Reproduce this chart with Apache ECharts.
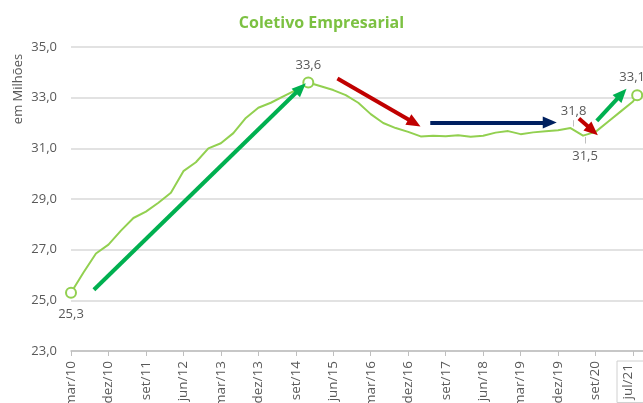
<!DOCTYPE html>
<html>
<head>
<meta charset="utf-8">
<script src="https://cdn.jsdelivr.net/npm/echarts@6/dist/echarts.min.js"></script>
<style>
  html, body { margin: 0; padding: 0; background: #fff; }
  #chart { width: 643px; height: 403px; }
</style>
</head>
<body>
<div id="chart"></div>
<script>
// datas dos pontos (trimestral, ultimo mes jul/21)
const dates = [
  "mar/10", "jun/10", "set/10", "dez/10", "mar/11", "jun/11", "set/11", "dez/11",
  "mar/12", "jun/12", "set/12", "dez/12", "mar/13", "jun/13", "set/13", "dez/13",
  "mar/14", "jun/14", "set/14", "dez/14", "mar/15", "jun/15", "set/15", "dez/15",
  "mar/16", "jun/16", "set/16", "dez/16", "mar/17", "jun/17", "set/17", "dez/17",
  "mar/18", "jun/18", "set/18", "dez/18", "mar/19", "jun/19", "set/19", "dez/19",
  "mar/20", "jun/20", "set/20", "dez/20", "mar/21", "jun/21", "jul/21"
];
// beneficiarios (milhoes)
const values = [
  25.3, 26.1, 26.85, 27.2, 27.75, 28.25, 28.5, 28.85,
  29.25, 30.1, 30.45, 31.0, 31.2, 31.6, 32.2, 32.6,
  32.8, 33.05, 33.3, 33.6, 33.45, 33.3, 33.1, 32.8,
  32.35, 32.0, 31.8, 31.65, 31.47, 31.5, 31.48, 31.52,
  31.46, 31.5, 31.62, 31.68, 31.56, 31.63, 31.67, 31.71,
  31.8, 31.5, 31.65, 32.05, 32.45, 32.85, 33.1
];
// rotulos do eixo x (a cada 9 meses)
const tickLabels = [
  "mar/10", "dez/10", "set/11", "jun/12", "mar/13", "dez/13", "set/14", "jun/15",
  "mar/16", "dez/16", "set/17", "jun/18", "mar/19", "dez/19", "set/20", "jul/21"
];
// pontos destacados
const circled = ["mar/10", "dez/14", "jul/21"];
const labelled = { "mar/10": "bottom", "dez/14": "top", "mar/20": "top", "jun/20": "bottom", "jul/21": "top" };
// setas desenhadas: [mes inicio, valor inicio, mes fim, valor fim, cor]
const arrows = [
  [5.5, 25.42, 55.2, 33.38, "green"],
  [64.0, 33.76, 82.5, 32.0, "red"],
  [86.3, 32.02, 115.0, 32.02, "navy"],
  [122.0, 32.18, 125.3, 31.7, "red"],
  [126.3, 32.08, 132.3, 33.15, "green"]
];
// tracinhos ligando rotulos aos pontos
const leaders = [
  [120.6, 32.11, 120.6, 31.86],
  [123.5, 31.45, 123.5, 31.19]
];

const monthNames = ["jan", "fev", "mar", "abr", "mai", "jun", "jul", "ago", "set", "out", "nov", "dez"];
function monthIndex(d) {
  let p = d.split("/");
  return (parseInt(p[1]) - 10) * 12 + monthNames.indexOf(p[0]) - 2;
}
function fmt(v) {
  return v.toFixed(1).replace(".", ",");
}

const lineColor = "#92d050";
const arrowColors = { green: "#00b050", red: "#c00000", navy: "#002060" };
const labelDist = { "mar/10": 9, "dez/14": 5, "mar/20": 10, "jun/20": 14, "jul/21": 5 };

let seriesData = dates.map(function (d, i) {
  let item = { value: [monthIndex(d), values[i]] };
  if (circled.indexOf(d) >= 0) {
    item.symbol = "emptyCircle";
    item.symbolSize = 10;
  }
  if (labelled[d]) {
    if (!item.symbol) {
      item.symbol = "circle";
      item.symbolSize = 1;
    }
    item.label = {
      show: true,
      position: labelled[d],
      distance: labelDist[d],
      formatter: function (p) { return fmt(p.value[1]); }
    };
    if (d == "mar/20") item.label.offset = [3, 0];
    if (d == "jun/20") item.label.offset = [2, 0];
    if (d == "jul/21") item.label.offset = [-5, 0];
  }
  return item;
});

let markData = arrows.map(function (a) {
  return [
    { coord: [a[0], a[1]], symbol: "none" },
    { coord: [a[2], a[3]], symbol: "triangle", symbolSize: [12, 14],
      lineStyle: { color: arrowColors[a[4]], width: 4, type: "solid" },
      itemStyle: { color: arrowColors[a[4]] } }
  ];
});
leaders.forEach(function (l) {
  markData.push([
    { coord: [l[0], l[1]], symbol: "none" },
    { coord: [l[2], l[3]], symbol: "none", lineStyle: { color: "#bfbfbf", width: 1, type: "solid" } }
  ]);
});

let myChart = echarts.init(document.getElementById("chart"));
let option = {
  animation: false,
  textStyle: { fontFamily: "Open Sans" },
  title: {
    text: "Coletivo Empresarial",
    left: "center",
    top: 10,
    textStyle: { color: "#7cc142", fontSize: 16, fontWeight: "bold", fontFamily: "Open Sans" }
  },
  grid: { left: 71, right: 0, top: 47, bottom: 52, containLabel: false, outerBoundsMode: "none" },
  graphic: [
    {
      type: "text",
      x: 18,
      y: 89,
      rotation: Math.PI / 2,
      style: {
        text: "em Milhões",
        fill: "#595959",
        font: "13px 'Open Sans'",
        textAlign: "center",
        textVerticalAlign: "middle"
      }
    }
  ],
  xAxis: {
    type: "value",
    min: 0,
    max: 137.4,
    interval: 9,
    splitLine: { show: false },
    axisLine: { show: true, lineStyle: { color: "#bfbfbf", width: 1.5 } },
    axisTick: { show: true, length: 5, lineStyle: { color: "#bfbfbf" } },
    axisLabel: {
      rotate: 90,
      margin: 10,
      fontSize: 13.5,
      color: "#595959",
      showMaxLabel: false,
      hideOverlap: false,
      formatter: function (v) {
        let i = Math.round(v / 9);
        if (i == tickLabels.length - 1) return "{box|" + tickLabels[i] + "}";
        return tickLabels[i] || "";
      },
      rich: {
        box: {
          fontSize: 13.5,
          color: "#595959",
          borderColor: "#d0d0d0",
          borderWidth: 1,
          padding: [4, 3, 14, 3]
        }
      }
    }
  },
  yAxis: {
    type: "value",
    min: 23,
    max: 35,
    interval: 2,
    axisLine: { show: false },
    axisTick: { show: false },
    axisLabel: {
      margin: 14,
      fontSize: 13,
      color: "#595959",
      formatter: function (v) { return fmt(v); }
    },
    splitLine: { lineStyle: { color: "#d9d9d9", width: 1.5 } }
  },
  series: [
    {
      type: "line",
      data: seriesData,
      symbol: "none",
      showSymbol: true,
      lineStyle: { color: lineColor, width: 2 },
      itemStyle: { color: lineColor, borderWidth: 2 },
      label: { color: "#595959", fontSize: 13 },
      emphasis: { disabled: true },
      markLine: {
        silent: true,
        animation: false,
        label: { show: false },
        emphasis: { disabled: true },
        data: markData
      },
      z: 3
    }
  ]
};
myChart.setOption(option);
</script>
</body>
</html>
